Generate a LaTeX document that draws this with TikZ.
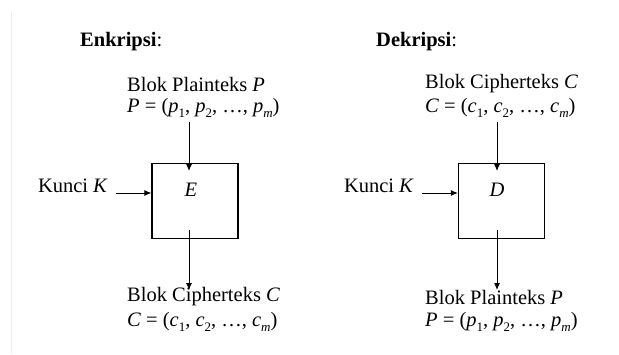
\documentclass[tikz,border=0pt]{standalone}
\usepackage{fontspec}
\setmainfont{Liberation Serif}
\usetikzlibrary{arrows.meta}
\newcommand\sbx[1]{\raisebox{-0.22em}{\fontsize{13}{13}\selectfont #1}}
\tikzset{
  txt/.style={anchor=west, inner sep=0pt, font=\fontsize{20.5}{25}\selectfont},
  ttl/.style={anchor=west, inner sep=0pt, font=\fontsize{20.5}{25}\selectfont},
  blk/.style={draw=black, line width=1.1pt, minimum width=86pt, minimum height=75pt, inner sep=0pt},
  arr/.style={line width=1pt, -{Latex[length=7pt,width=6pt]}}
}
\begin{document}
\begin{tikzpicture}[x=1pt,y=-1pt]
\useasboundingbox (0,0) rectangle (619,354);
\fill[white] (0,0) rectangle (619,354);
\draw[black!7, line width=1pt] (11.5,12) -- (11.5,354);
% ---------- Enkripsi
\node[ttl] (t1) at (80,42) {\textbf{Enkripsi}:};
\node[txt] (pa) at (127,84) {Blok Plainteks \textit{P}};
\node[txt] (pb) at (127,108) {\textit{P} = (\textit{p}\sbx{1}, \textit{p}\sbx{2}, …, \textit{p}\sbx{\textit{m}})};
\node[blk] (E) at (195,201) {};
\node[txt, anchor=center] (El) at (191,190) {\textit{E}};
\node[txt, anchor=east] (k1) at (108,186) {Kunci \textit{K}};
\node[txt] (ca) at (127,297) {Blok Cipherteks \textit{C}};
\node[txt] (cb) at (127,322) {\textit{C} = (\textit{c}\sbx{1}, \textit{c}\sbx{2}, …, \textit{c}\sbx{\textit{m}})};
\coordinate (e1) at (189,122);
\coordinate (e2) at (189,171);
\coordinate (e3) at (189,230);
\coordinate (e4) at (189,290);
\coordinate (k1e) at (116,193);
\draw[arr] (e1) -- (e2);
\draw[arr] (e3) -- (e4);
\draw[arr] (k1e) -- (E.west |- k1e);
% ---------- Dekripsi
\node[ttl] (t2) at (376,42) {\textbf{Dekripsi}:};
\node[txt] (qa) at (425,84) {Blok Cipherteks \textit{C}};
\node[txt] (qb) at (425,108) {\textit{C} = (\textit{c}\sbx{1}, \textit{c}\sbx{2}, …, \textit{c}\sbx{\textit{m}})};
\node[blk] (D) at (501.5,201) {};
\node[txt, anchor=center] (Dl) at (497,190) {\textit{D}};
\node[txt, anchor=east] (k2) at (414,186) {Kunci \textit{K}};
\node[txt] (ra) at (425,297) {Blok Plainteks \textit{P}};
\node[txt] (rb) at (425,322) {\textit{P} = (\textit{p}\sbx{1}, \textit{p}\sbx{2}, …, \textit{p}\sbx{\textit{m}})};
\coordinate (d1) at (497,122);
\coordinate (d2) at (497,171);
\coordinate (d3) at (497,230);
\coordinate (d4) at (497,290);
\coordinate (k2e) at (422,193);
\draw[arr] (d1) -- (d2);
\draw[arr] (d3) -- (d4);
\draw[arr] (k2e) -- (D.west |- k2e);
\end{tikzpicture}
\end{document}
